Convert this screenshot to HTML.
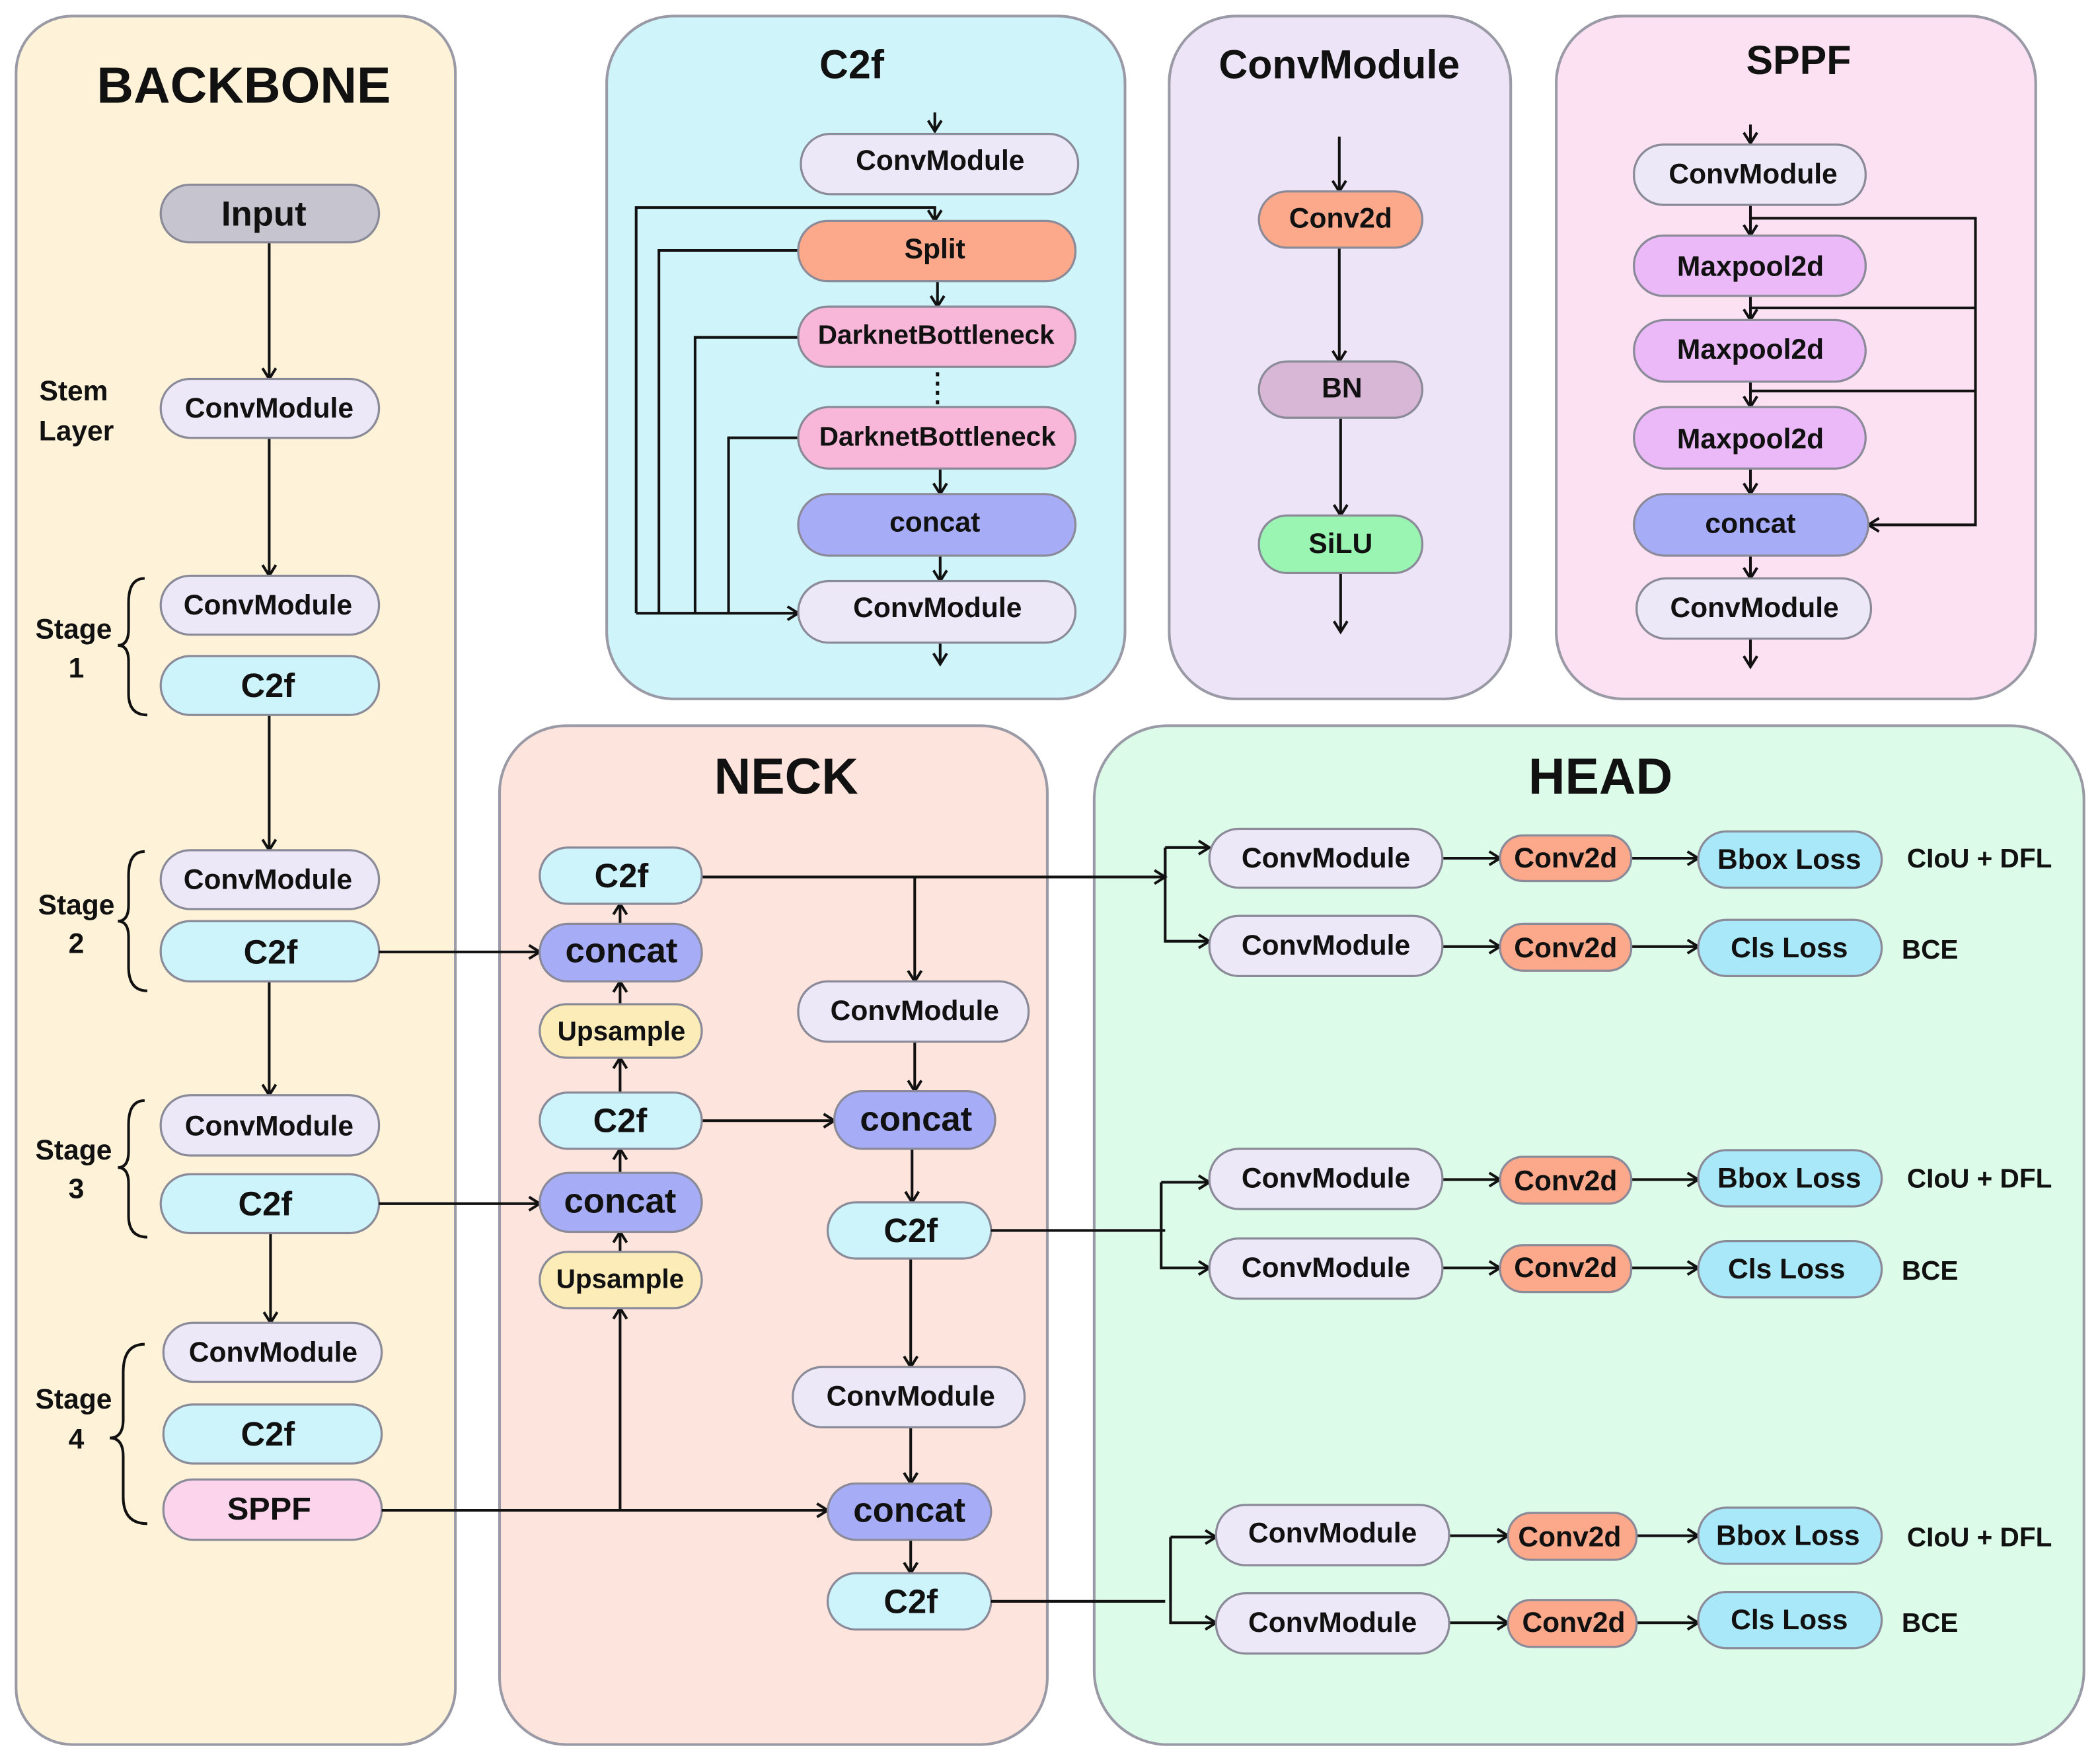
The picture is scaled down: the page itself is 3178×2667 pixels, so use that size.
<!DOCTYPE html>
<html><head><meta charset="utf-8"><style>
html,body{margin:0;padding:0;background:#fff}
svg{display:block}
text{font-family:"Liberation Sans","DejaVu Sans",sans-serif;font-weight:bold;fill:#111;text-anchor:middle;dominant-baseline:central}
.n{stroke:#8a8a98;stroke-width:1.6}
.l{stroke:#111;stroke-width:2;fill:none}
.p{stroke:#9a9aa6;stroke-width:2}
</style></head><body>
<svg width="3178" height="2667" viewBox="0 0 1568 1316" preserveAspectRatio="none" xmlns="http://www.w3.org/2000/svg">
<defs><marker id="a" markerWidth="12" markerHeight="12" refX="10" refY="6" orient="auto" markerUnits="userSpaceOnUse"><path d="M2,1 L10,6 L2,11" fill="none" stroke="#111" stroke-width="2"/></marker></defs>
<rect width="1568" height="1316" fill="#fff"/>
<rect class="p" x="12" y="12" width="328" height="1291" rx="42" fill="#fef3d8"/>
<rect class="p" x="453" y="12" width="387" height="510" rx="50" fill="#cff5fb"/>
<rect class="p" x="873" y="12" width="255" height="510" rx="50" fill="#ede5f7"/>
<rect class="p" x="1162" y="12" width="358" height="510" rx="50" fill="#fce1f2"/>
<rect class="p" x="373" y="542" width="409" height="761" rx="50" fill="#fde4dc"/>
<rect class="p" x="817" y="542" width="739" height="761" rx="55" fill="#ddfbe9"/>
<text x="182" y="64" font-size="38">BACKBONE</text>
<text x="636" y="48" font-size="30">C2f</text>
<text x="1000" y="48" font-size="30">ConvModule</text>
<text x="1343" y="45" font-size="30">SPPF</text>
<text x="587" y="580" font-size="38">NECK</text>
<text x="1195" y="580" font-size="38">HEAD</text>

<g font-size="21">
<text x="55" y="292">Stem</text><text x="57" y="322">Layer</text>
<text x="55" y="470">Stage</text><text x="57" y="499">1</text>
<text x="57" y="676">Stage</text><text x="57" y="705">2</text>
<text x="55" y="859">Stage</text><text x="57" y="888">3</text>
<text x="55" y="1045">Stage</text><text x="57" y="1075">4</text>
</g>
<path class="l" d="M108,432 Q96,432 96,450 L96,470 Q96,482 88,482 Q96,482 96,494 L96,518 Q96,534 110,534"/>
<path class="l" d="M108,636 Q96,636 96,654 L96,676 Q96,688 88,688 Q96,688 96,700 L96,722 Q96,740 110,740"/>
<path class="l" d="M108,822 Q96,822 96,840 L96,860 Q96,872 88,872 Q96,872 96,884 L96,908 Q96,924 110,924"/>
<path class="l" d="M108,1004 Q92,1004 92,1025 L92,1060 Q92,1074 82,1074 Q92,1074 92,1088 L92,1118 Q92,1138 110,1138"/>
<g class="l" marker-end="url(#a)">
<path d="M201,181V283"/><path d="M201,327V430"/><path d="M201,534V635"/><path d="M201,733V818"/><path d="M202,921V988"/>
</g>
<rect class="n" x="120" y="138" width="163" height="43" rx="21.5" fill="#c6c5cf"/><text x="197" y="160" font-size="26">Input</text>
<rect class="n" x="120" y="283" width="163" height="44" rx="22" fill="#ece8f8"/><text x="201" y="305" font-size="21">ConvModule</text>
<rect class="n" x="120" y="430" width="163" height="44" rx="22" fill="#ece8f8"/><text x="200" y="452" font-size="21">ConvModule</text>
<rect class="n" x="120" y="490" width="163" height="44" rx="22" fill="#cdf3fb"/><text x="200" y="512" font-size="25">C2f</text>
<rect class="n" x="120" y="635" width="163" height="44" rx="22" fill="#ece8f8"/><text x="200" y="657" font-size="21">ConvModule</text>
<rect class="n" x="120" y="688" width="163" height="45" rx="22" fill="#cdf3fb"/><text x="202" y="711" font-size="25">C2f</text>
<rect class="n" x="120" y="818" width="163" height="45" rx="22" fill="#ece8f8"/><text x="201" y="841" font-size="21">ConvModule</text>
<rect class="n" x="120" y="877" width="163" height="44" rx="22" fill="#cdf3fb"/><text x="198" y="899" font-size="25">C2f</text>
<rect class="n" x="122" y="988" width="163" height="44" rx="22" fill="#ece8f8"/><text x="204" y="1010" font-size="21">ConvModule</text>
<rect class="n" x="122" y="1049" width="163" height="44" rx="22" fill="#cdf3fb"/><text x="200" y="1071" font-size="25">C2f</text>
<rect class="n" x="122" y="1105" width="163" height="45" rx="22" fill="#fcd5ec"/><text x="201" y="1127" font-size="24">SPPF</text>

<g class="l" marker-end="url(#a)">
<path d="M698,84V98"/><path d="M475,458V155H698V165"/><path d="M700,210V229"/><path d="M702,350V369"/><path d="M702,415V434"/><path d="M702,480V496"/>
<path d="M475,458H596"/>
</g>
<path class="l" d="M596,187H492V458M596,252H519V458M596,327H544V458"/>
<path d="M700,278V302" stroke="#111" stroke-width="2.5" stroke-dasharray="3,4"/>
<rect class="n" x="598" y="100" width="207" height="45" rx="22" fill="#ece8f8"/><text x="702" y="120" font-size="21">ConvModule</text>
<rect class="n" x="596" y="165" width="207" height="45" rx="22" fill="#fca98b"/><text x="698" y="186" font-size="21">Split</text>
<rect class="n" x="596" y="229" width="207" height="45" rx="22" fill="#f8b6d8"/><text x="699" y="250" font-size="20">DarknetBottleneck</text>
<rect class="n" x="596" y="304" width="207" height="46" rx="23" fill="#f8b6d8"/><text x="700" y="326" font-size="20">DarknetBottleneck</text>
<rect class="n" x="596" y="369" width="207" height="46" rx="23" fill="#a7acf6"/><text x="698" y="390" font-size="21">concat</text>
<rect class="n" x="596" y="434" width="207" height="46" rx="23" fill="#ece8f8"/><text x="700" y="454" font-size="21">ConvModule</text>

<g class="l" marker-end="url(#a)">
<path d="M1000,102V143"/><path d="M1000,185V270"/><path d="M1001,312V385"/><path d="M1001,428V472"/>
</g>
<rect class="n" x="940" y="143" width="122" height="42" rx="21" fill="#fca98b"/><text x="1001" y="163" font-size="21">Conv2d</text>
<rect class="n" x="940" y="270" width="122" height="42" rx="21" fill="#d8b6d6"/><text x="1002" y="290" font-size="21">BN</text>
<rect class="n" x="940" y="385" width="122" height="43" rx="21" fill="#9af5b2"/><text x="1001" y="406" font-size="21">SiLU</text>

<g class="l" marker-end="url(#a)">
<path d="M1307,93V107"/><path d="M1307,153V176"/><path d="M1307,221V239"/><path d="M1307,285V304"/><path d="M1307,350V369"/><path d="M1307,415V432"/><path d="M1307,477V498"/>
<path d="M1307,163H1475V392H1395"/>
</g>
<path class="l" d="M1307,230H1475M1307,292H1475"/>
<rect class="n" x="1220" y="108" width="173" height="45" rx="22" fill="#ece8f8"/><text x="1309" y="130" font-size="21">ConvModule</text>
<rect class="n" x="1220" y="176" width="173" height="45" rx="22" fill="#ebb8f8"/><text x="1307" y="199" font-size="21">Maxpool2d</text>
<rect class="n" x="1220" y="239" width="173" height="46" rx="23" fill="#ebb8f8"/><text x="1307" y="261" font-size="21">Maxpool2d</text>
<rect class="n" x="1220" y="304" width="173" height="46" rx="23" fill="#ebb8f8"/><text x="1307" y="328" font-size="21">Maxpool2d</text>
<rect class="n" x="1220" y="369" width="175" height="46" rx="23" fill="#a7acf6"/><text x="1307" y="391" font-size="21">concat</text>
<rect class="n" x="1222" y="432" width="175" height="45" rx="22" fill="#ece8f8"/><text x="1310" y="454" font-size="21">ConvModule</text>

<g class="l" marker-end="url(#a)">
<path d="M283,711H403"/><path d="M283,899H403"/><path d="M285,1128H618"/>
<path d="M463,1128V977"/><path d="M463,935V920"/><path d="M463,876V858"/><path d="M463,816V790"/><path d="M463,750V733"/><path d="M463,690V675"/>
<path d="M683,655V733"/><path d="M683,778V815"/><path d="M524,837H623"/><path d="M681,858V898"/><path d="M680,940V1021"/><path d="M680,1066V1108"/><path d="M680,1150V1175"/>
<path d="M524,655H870"/>
</g>
<rect class="n" x="403" y="633" width="121" height="42" rx="21" fill="#cdf3fb"/><text x="464" y="654" font-size="25">C2f</text>
<rect class="n" x="403" y="690" width="121" height="43" rx="21" fill="#a7acf6"/><text x="464" y="710" font-size="26">concat</text>
<rect class="n" x="403" y="750" width="121" height="40" rx="20" fill="#fcecb8"/><text x="464" y="770" font-size="20">Upsample</text>
<rect class="n" x="403" y="816" width="121" height="42" rx="21" fill="#cdf3fb"/><text x="463" y="837" font-size="25">C2f</text>
<rect class="n" x="403" y="876" width="121" height="44" rx="22" fill="#a7acf6"/><text x="463" y="897" font-size="26">concat</text>
<rect class="n" x="403" y="935" width="121" height="42" rx="21" fill="#fcecb8"/><text x="463" y="955" font-size="20">Upsample</text>
<rect class="n" x="596" y="733" width="172" height="45" rx="22" fill="#ece8f8"/><text x="683" y="755" font-size="21">ConvModule</text>
<rect class="n" x="623" y="815" width="120" height="43" rx="21" fill="#a7acf6"/><text x="684" y="836" font-size="26">concat</text>
<rect class="n" x="618" y="898" width="122" height="42" rx="21" fill="#cdf3fb"/><text x="680" y="919" font-size="25">C2f</text>
<rect class="n" x="592" y="1021" width="173" height="45" rx="22" fill="#ece8f8"/><text x="680" y="1043" font-size="21">ConvModule</text>
<rect class="n" x="618" y="1108" width="122" height="42" rx="21" fill="#a7acf6"/><text x="679" y="1128" font-size="26">concat</text>
<rect class="n" x="618" y="1175" width="122" height="42" rx="21" fill="#cdf3fb"/><text x="680" y="1196" font-size="25">C2f</text>
<path class="l" d="M740,919H870M740,1196H870"/>

<g class="l" marker-end="url(#a)">
<path d="M870,633V703H903"/><path d="M870,633H903"/>
<path d="M867,883V947H903"/><path d="M867,883H903"/>
<path d="M874,1148V1212H908"/><path d="M874,1148H908"/>
<path d="M1077,641H1120"/><path d="M1218,641H1268"/><path d="M1077,707H1120"/><path d="M1218,707H1268"/>
<path d="M1077,881H1120"/><path d="M1218,881H1268"/><path d="M1077,947H1120"/><path d="M1218,947H1268"/>
<path d="M1082,1147H1126"/><path d="M1222,1147H1268"/><path d="M1082,1212H1126"/><path d="M1222,1212H1268"/>
</g>
<path class="l" d="M870,633V655M867,919V883M874,1196V1148"/>
<g>
<rect class="n" x="903" y="619" width="174" height="44" rx="22" fill="#ece8f8"/><text x="990" y="641" font-size="21">ConvModule</text>
<rect class="n" x="1120" y="624" width="98" height="34" rx="17" fill="#fca98b"/><text x="1169" y="641" font-size="21">Conv2d</text>
<rect class="n" x="1268" y="621" width="137" height="42" rx="21" fill="#a8e8f8"/><text x="1336" y="642" font-size="21">Bbox Loss</text>
<text x="1478" y="641" font-size="20">CIoU + DFL</text>
<rect class="n" x="903" y="684" width="174" height="45" rx="22" fill="#ece8f8"/><text x="990" y="706" font-size="21">ConvModule</text>
<rect class="n" x="1120" y="690" width="98" height="35" rx="17" fill="#fca98b"/><text x="1169" y="708" font-size="21">Conv2d</text>
<rect class="n" x="1268" y="687" width="137" height="42" rx="21" fill="#a8e8f8"/><text x="1336" y="708" font-size="21">Cls Loss</text>
<text x="1441" y="709" font-size="20">BCE</text>

<rect class="n" x="903" y="858" width="174" height="45" rx="22" fill="#ece8f8"/><text x="990" y="880" font-size="21">ConvModule</text>
<rect class="n" x="1120" y="864" width="98" height="35" rx="17" fill="#fca98b"/><text x="1169" y="882" font-size="21">Conv2d</text>
<rect class="n" x="1268" y="859" width="137" height="42" rx="21" fill="#a8e8f8"/><text x="1336" y="880" font-size="21">Bbox Loss</text>
<text x="1478" y="880" font-size="20">CIoU + DFL</text>
<rect class="n" x="903" y="925" width="174" height="45" rx="22" fill="#ece8f8"/><text x="990" y="947" font-size="21">ConvModule</text>
<rect class="n" x="1120" y="930" width="98" height="35" rx="17" fill="#fca98b"/><text x="1169" y="947" font-size="21">Conv2d</text>
<rect class="n" x="1268" y="927" width="137" height="42" rx="21" fill="#a8e8f8"/><text x="1334" y="948" font-size="21">Cls Loss</text>
<text x="1441" y="949" font-size="20">BCE</text>

<rect class="n" x="908" y="1124" width="174" height="45" rx="22" fill="#ece8f8"/><text x="995" y="1145" font-size="21">ConvModule</text>
<rect class="n" x="1126" y="1130" width="96" height="35" rx="17" fill="#fca98b"/><text x="1172" y="1148" font-size="21">Conv2d</text>
<rect class="n" x="1268" y="1126" width="137" height="42" rx="21" fill="#a8e8f8"/><text x="1335" y="1147" font-size="21">Bbox Loss</text>
<text x="1478" y="1148" font-size="20">CIoU + DFL</text>
<rect class="n" x="908" y="1190" width="174" height="45" rx="22" fill="#ece8f8"/><text x="995" y="1212" font-size="21">ConvModule</text>
<rect class="n" x="1126" y="1195" width="96" height="35" rx="17" fill="#fca98b"/><text x="1175" y="1212" font-size="21">Conv2d</text>
<rect class="n" x="1268" y="1189" width="137" height="42" rx="21" fill="#a8e8f8"/><text x="1336" y="1210" font-size="21">Cls Loss</text>
<text x="1441" y="1212" font-size="20">BCE</text>
</g>
</svg>
</body></html>
